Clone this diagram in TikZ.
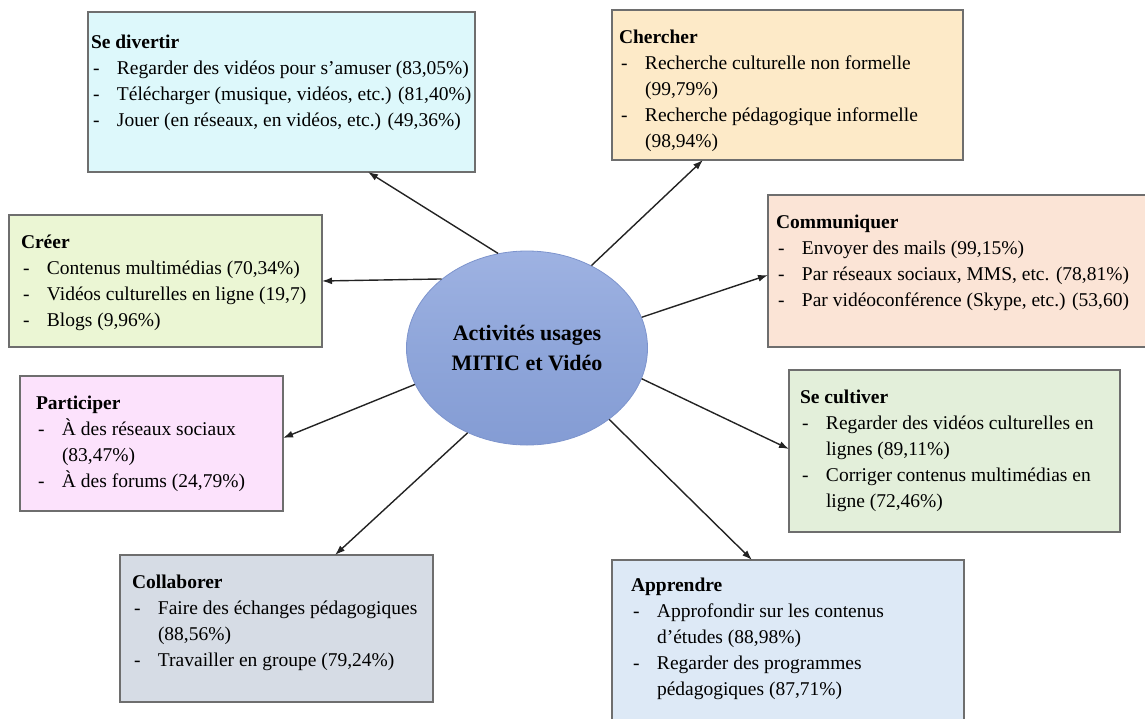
\documentclass[tikz,border=0pt]{standalone}
\usepackage{fontspec}
\setmainfont{Liberation Serif}
\usetikzlibrary{arrows.meta,calc,shapes.geometric}
\definecolor{cSd}{RGB}{221,248,251}
\definecolor{cCh}{RGB}{253,234,200}
\definecolor{cCm}{RGB}{251,228,214}
\definecolor{cSc}{RGB}{227,239,218}
\definecolor{cAp}{RGB}{221,233,246}
\definecolor{cCo}{RGB}{214,220,229}
\definecolor{cPa}{RGB}{252,226,252}
\definecolor{cCr}{RGB}{235,246,212}
\definecolor{cElT}{RGB}{158,178,226}
\definecolor{cElM}{RGB}{143,166,218}
\definecolor{cElBt}{RGB}{132,156,212}
\definecolor{cElB}{RGB}{125,148,205}
\definecolor{cBd}{RGB}{110,110,110}
\definecolor{cAr}{RGB}{35,35,35}
\newcommand{\bl}{\makebox[26pt][l]{\hspace{2pt}-}}
\newcommand{\cn}{\hspace*{26pt}}
\begin{document}
\begin{tikzpicture}[x=1pt,y=-1pt,
  box/.style={draw=cBd, line width=1.5pt, anchor=north west, inner sep=0pt, outer sep=0pt},
  txt/.style={anchor=north west, inner sep=0pt, outer sep=0pt, align=left, font=\fontsize{19.5}{26}\selectfont},
  arr/.style={-{Latex[length=10pt,width=7pt]}, line width=1.4pt, draw=cAr},
]
\useasboundingbox (0,0) rectangle (1145,718);

% boxes
\node[box, fill=cSd, minimum width=387pt, minimum height=160pt] (sd) at (88,12) {};
\node[box, fill=cCh, minimum width=351pt, minimum height=150pt] (ch) at (612,10) {};
\node[box, fill=cCm, minimum width=380pt, minimum height=152pt] (cm) at (768,195) {};
\node[box, fill=cSc, minimum width=331pt, minimum height=162pt] (sc) at (789,370) {};
\node[box, fill=cAp, minimum width=352pt, minimum height=180pt] (ap) at (612,560) {};
\node[box, fill=cCo, minimum width=313pt, minimum height=147pt] (co) at (120,555) {};
\node[box, fill=cPa, minimum width=263pt, minimum height=135pt] (pa) at (20,376) {};
\node[box, fill=cCr, minimum width=313pt, minimum height=132pt] (cr) at (9,215) {};

% texts
\node[txt] (sdt) at ($(sd.north west)+(3,18)$) {\strut\textbf{Se divertir}\\
\bl Regarder des vidéos pour s’amuser (83,05\%)\\
\bl Télécharger (musique, vidéos, etc.) (81,40\%)\\
\bl Jouer (en réseaux, en vidéos, etc.) (49,36\%)};

\node[txt] (cht) at ($(ch.north west)+(7,15)$) {\strut\textbf{Chercher}\\
\bl Recherche culturelle non formelle\\
\cn (99,79\%)\\
\bl Recherche pédagogique informelle\\
\cn (98,94\%)};

\node[txt] (cmt) at ($(cm.north west)+(8,15)$) {\strut\textbf{Communiquer}\\
\bl Envoyer des mails (99,15\%)\\
\bl Par réseaux sociaux, MMS, etc. (78,81\%)\\
\bl Par vidéoconférence (Skype, etc.) (53,60)};

\node[txt] (sct) at ($(sc.north west)+(11,15)$) {\strut\textbf{Se cultiver}\\
\bl Regarder des vidéos culturelles en\\
\cn lignes (89,11\%)\\
\bl Corriger contenus multimédias en\\
\cn ligne (72,46\%)};

\node[txt] (apt) at ($(ap.north west)+(19,13)$) {\strut\textbf{Apprendre}\\
\bl Approfondir sur les contenus\\
\cn d’études (88,98\%)\\
\bl Regarder des programmes\\
\cn pédagogiques (87,71\%)};

\node[txt] (cot) at ($(co.north west)+(12,15)$) {\strut\textbf{Collaborer}\\
\bl Faire des échanges pédagogiques\\
\cn (88,56\%)\\
\bl Travailler en groupe (79,24\%)};

\node[txt] (pat) at ($(pa.north west)+(16,15)$) {\strut\textbf{Participer}\\
\bl À des réseaux sociaux\\
\cn (83,47\%)\\
\bl À des forums (24,79\%)};

\node[txt] (crt) at ($(cr.north west)+(12,15)$) {\strut\textbf{Créer}\\
\bl Contenus multimédias (70,34\%)\\
\bl Vidéos culturelles en ligne (19,7)\\
\bl Blogs (9,96\%)};

% central ellipse
\node[ellipse, top color=cElT, bottom color=cElBt, middle color=cElM, draw=cElB, line width=0.8pt,
  minimum width=241pt, minimum height=194pt, inner sep=0pt,
  font=\bfseries\fontsize{22}{30}\selectfont, align=center] (ell) at (527,348) {Activités usages\\MITIC et Vidéo};

% connectors
\draw[arr] (ell.107) -- ([xshift=280pt]sd.south west);
\draw[arr] (ell.52) -- ([xshift=91pt]ch.south west);
\draw[arr] (ell.15) -- ([yshift=-80pt]cm.north west);
\draw[arr] (ell.-15) -- ([yshift=-79pt]sc.north west);
\draw[arr] (ell.-41) -- ([xshift=140pt]ap.north west);
\draw[arr] (ell.-125) -- ([xshift=215pt]co.north west);
\draw[arr] (ell.198) -- ([yshift=-62pt]pa.north east);
\draw[arr] (ell.141) -- ([yshift=-66pt]cr.north east);
\end{tikzpicture}
\end{document}
